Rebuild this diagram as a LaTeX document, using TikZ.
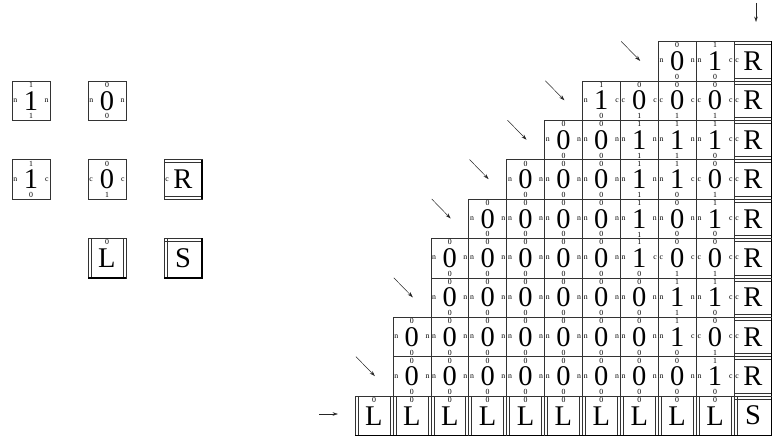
\documentclass[tikz,border=0pt]{standalone}
\usepackage{fontspec}
\setmainfont{Liberation Serif}
\usetikzlibrary{arrows.meta}
\tikzset{
  tile/.style={draw=black!80, line width=0.5pt, minimum width=37.9pt, minimum height=39.4pt,
    inner sep=0pt, outer sep=0pt, anchor=north west, font=\fontsize{28.5}{28.5}\selectfont},
  lab/.style={font=\fontsize{7.8}{8}\selectfont, inner sep=1.2pt, text=black},
  tl/.style={label={[lab,anchor=north]north:#1}},
  bl/.style={label={[lab,anchor=south]south:#1}},
  ll/.style={label={[lab,anchor=west]west:#1}},
  rl/.style={label={[lab,anchor=east]east:#1}},
  inner line/.style={draw=black!80, line width=0.5pt},
  heavy edge/.style={draw=black, line width=1.8pt},
  arr/.style={-{Stealth[length=5.5pt,width=3.6pt]}, line width=0.5pt, black!85}
}
\newcommand{\Tzero}[3]{\node[tile,tl=0,bl=0,ll=n,rl=n] (#1) at (#2,#3) {0};}
\newcommand{\Tone}[3]{\node[tile,tl=1,bl=1,ll=n,rl=n] (#1) at (#2,#3) {1};}
\newcommand{\Tinc}[3]{\node[tile,tl=1,bl=0,ll=n,rl=c] (#1) at (#2,#3) {1};}
\newcommand{\Tcar}[3]{\node[tile,tl=0,bl=1,ll=c,rl=c] (#1) at (#2,#3) {0};}
\newcommand{\TR}[3]{\node[tile,ll=c] (#1) at (#2,#3) {R};
  \draw[inner line] ([yshift=-3pt]#1.north west) -- ([yshift=-3pt]#1.north east);
  \draw[inner line] ([yshift=3pt]#1.south west) -- ([yshift=3pt]#1.south east);
  \draw[heavy edge] (#1.north east) -- (#1.south east);}
\newcommand{\TL}[3]{\node[tile,tl=0] (#1) at (#2,#3) {L};
  \draw[inner line] ([xshift=3pt]#1.north west) -- ([xshift=3pt]#1.south west);
  \draw[inner line] ([xshift=-3pt]#1.north east) -- ([xshift=-3pt]#1.south east);
  \draw[heavy edge] (#1.south west) -- (#1.south east);}
\newcommand{\TS}[3]{\node[tile] (#1) at (#2,#3) {S};
  \draw[inner line] ([yshift=-3pt]#1.north west) -- ([yshift=-3pt]#1.north east);
  \draw[inner line] ([xshift=3pt]#1.north west) -- ([xshift=3pt]#1.south west);
  \draw[heavy edge] (#1.north east) -- (#1.south east) -- (#1.south west);}
\begin{document}
\begin{tikzpicture}[x=1pt,y=-1pt]
\useasboundingbox (0,0) rectangle (772,436);
% legend
\Tone{g1}{12}{81}
\Tzero{g2}{88}{81}
\Tinc{g3}{12}{159.6}
\Tcar{g4}{88}{159.6}
\TR{g5}{164}{159.6}
\TL{g6}{88}{238.4}
\TS{g7}{164}{238.4}
% bottom row
\foreach \k in {0,...,9} {
  \pgfmathsetmacro\X{355+37.9*\k}
  \TL{L\k}{\X}{396}
}
\TS{S}{734}{396}
% counter rows
\foreach \r/\s in {1/1,2/1,3/2,4/2,5/3,6/4,7/5,8/6,9/8} {
  \pgfmathsetmacro\Y{396-39.4*\r}
  \foreach \k in {\s,...,9} {
    \pgfmathtruncatemacro\p{9-\k}
    \pgfmathtruncatemacro\b{mod(floor(\r/(2^\p)),2)}
    \pgfmathtruncatemacro\c{mod(floor((\r-1)/(2^\p)),2)}
    \pgfmathsetmacro\X{355+37.9*\k}
    \ifnum\b=\c
      \ifnum\b=1 \Tone{t\r-\k}{\X}{\Y}\else\Tzero{t\r-\k}{\X}{\Y}\fi
    \else
      \ifnum\b=1 \Tinc{t\r-\k}{\X}{\Y}\else\Tcar{t\r-\k}{\X}{\Y}\fi
    \fi
  }
  \TR{R\r}{734}{\Y}
}
% diagonal arrows
\foreach \r/\s in {1/1,3/2,5/3,6/4,7/5,8/6,9/8} {
  \coordinate (a\r) at ([xshift=-37pt]t\r-\s.north west);
  \coordinate (b\r) at ([xshift=-18pt,yshift=-19.5pt]t\r-\s.north west);
  \draw[arr] (a\r) -- (b\r);
}
\coordinate (va) at (756,3);
\coordinate (vb) at (756,22);
\draw[arr] (va) -- (vb);
\coordinate (ha) at (319,414);
\coordinate (hb) at (338,414);
\draw[arr] (ha) -- (hb);
\end{tikzpicture}
\end{document}
